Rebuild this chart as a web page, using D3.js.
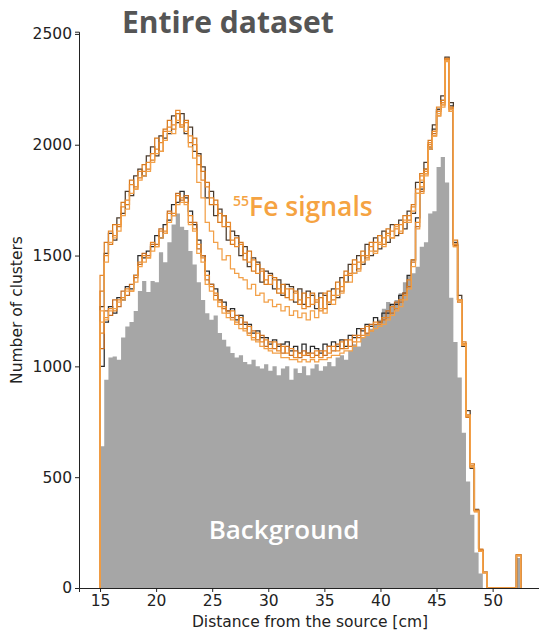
<!DOCTYPE html>
<html>
<head>
<meta charset="utf-8">
<script src="https://cdn.jsdelivr.net/npm/d3@7"></script>
<style>
  body { margin: 0; background: #fff; }
  svg { display: block; }
</style>
</head>
<body>
<svg id="chart" width="539" height="631"></svg>
<script>
// Histogram binning: 100 bins from 15 cm to 52.5 cm
const binStart = 15;
const binWidth = 0.375;

// Background cluster counts per bin
const background = [
  640, 940, 1040, 1045, 1030, 1130, 1180, 1200, 1250, 1340,
  1385, 1335, 1385, 1380, 1515, 1470, 1560, 1640, 1690, 1630,
  1615, 1520, 1460, 1380, 1300, 1240, 1210, 1230, 1150, 1120,
  1090, 1060, 1040, 1050, 1020, 1010, 1030, 1000, 990, 1010,
  980, 1000, 960, 990, 1000, 940, 990, 970, 1000, 960,
  990, 1010, 980, 1000, 1020, 1000, 1040, 1050, 1030, 1070,
  1100, 1090, 1130, 1150, 1170, 1190, 1210, 1260, 1290, 1280,
  1300, 1330, 1380, 1410, 1420, 1450, 1540, 1560, 1690, 1700,
  1900, 1945, 1830, 1310, 1110, 950, 700, 480, 330, 160,
  65, 0, 0, 0, 0, 0, 0, 0, 0, 135
];

// 55Fe signal runs, higher-rate group
const signalHigh1 = [
  1270, 1510, 1600, 1570, 1670, 1690, 1790, 1770, 1860, 1890,
  1860, 1950, 1990, 1950, 2040, 2030, 2050, 2130, 2100, 2140,
  2050, 2080, 1970, 1960, 1900, 1760, 1790, 1680, 1710, 1680,
  1570, 1610, 1590, 1500, 1540, 1450, 1490, 1470, 1380, 1430,
  1420, 1350, 1390, 1320, 1370, 1360, 1290, 1350, 1280, 1340,
  1320, 1260, 1330, 1320, 1280, 1350, 1310, 1400, 1380, 1460,
  1420, 1500, 1460, 1550, 1500, 1580, 1530, 1610, 1560, 1640,
  1590, 1660, 1620, 1700, 1690, 1830, 1830, 1920, 1980, 2090,
  2160, 2220, 2395, 2190, 1560, 1320, 1090, 800, 540, 355,
  170, 70, 0, 0, 0, 0, 0, 0, 0, 150
];
const signalHigh2 = [
  1340, 1560, 1550, 1640, 1630, 1740, 1730, 1840, 1810, 1850,
  1910, 1890, 1930, 2030, 1970, 2070, 2110, 2070, 2140, 2080,
  2110, 2010, 2030, 1910, 1880, 1830, 1730, 1750, 1650, 1680,
  1630, 1550, 1580, 1560, 1480, 1520, 1430, 1460, 1440, 1370,
  1410, 1400, 1330, 1370, 1310, 1350, 1340, 1280, 1330, 1270,
  1330, 1290, 1310, 1260, 1340, 1300, 1380, 1340, 1430, 1410,
  1480, 1440, 1520, 1490, 1560, 1520, 1590, 1550, 1620, 1580,
  1640, 1600, 1680, 1660, 1730, 1780, 1870, 1870, 2020, 2040,
  2130, 2200, 2380, 2150, 1570, 1290, 1110, 770, 560, 345,
  175, 70, 0, 0, 0, 0, 0, 0, 0, 148
];
const signalHigh3 = [
  1410, 1500, 1610, 1590, 1640, 1720, 1750, 1820, 1800, 1880,
  1880, 1920, 1960, 1980, 2010, 2060, 2080, 2090, 2155, 2090,
  2100, 2040, 2000, 1950, 1840, 1810, 1760, 1730, 1690, 1630,
  1650, 1570, 1540, 1550, 1510, 1470, 1480, 1420, 1430, 1390,
  1370, 1390, 1350, 1330, 1350, 1300, 1330, 1300, 1260, 1310,
  1280, 1300, 1250, 1330, 1290, 1320, 1350, 1360, 1410, 1420,
  1460, 1470, 1500, 1500, 1540, 1560, 1550, 1580, 1600, 1610,
  1620, 1640, 1650, 1680, 1720, 1800, 1860, 1890, 2010, 2060,
  2170, 2180, 2390, 2160, 1550, 1300, 1100, 780, 550, 350,
  170, 70, 0, 0, 0, 0, 0, 0, 0, 150
];
const signalHigh4 = [
  1200, 1470, 1560, 1580, 1610, 1680, 1710, 1780, 1800, 1840,
  1860, 1880, 1920, 1960, 1970, 2020, 2060, 2050, 2110, 2080,
  2060, 1990, 1940, 1830, 1760, 1650, 1610, 1560, 1530, 1480,
  1500, 1440, 1420, 1400, 1390, 1350, 1370, 1320, 1330, 1290,
  1300, 1270, 1280, 1250, 1270, 1230, 1250, 1220, 1240, 1210,
  1250, 1220, 1260, 1240, 1290, 1280, 1320, 1330, 1380, 1380,
  1420, 1430, 1470, 1480, 1520, 1510, 1560, 1540, 1590, 1580,
  1630, 1610, 1660, 1650, 1700, 1780, 1840, 1870, 1990, 2040,
  2130, 2170, 2380, 2150, 1540, 1300, 1100, 780, 550, 345,
  165, 70, 0, 0, 0, 0, 0, 0, 0, 145
];

// 55Fe signal runs, lower-rate group
const signalLow1 = [
  1000, 1200, 1270, 1240, 1310, 1300, 1360, 1350, 1410, 1500,
  1490, 1520, 1540, 1590, 1580, 1640, 1660, 1730, 1740, 1790,
  1760, 1700, 1640, 1570, 1500, 1430, 1370, 1350, 1300, 1290,
  1250, 1260, 1210, 1230, 1190, 1190, 1150, 1160, 1130, 1130,
  1100, 1120, 1090, 1100, 1110, 1070, 1090, 1060, 1100, 1060,
  1090, 1080, 1060, 1100, 1090, 1110, 1090, 1120, 1090, 1140,
  1130, 1170, 1160, 1190, 1180, 1220, 1200, 1240, 1240, 1280,
  1280, 1320, 1330, 1410, 1480, 1670, 1800, 1890, 1990, 2070,
  2160, 2200, 2390, 2175, 1550, 1300, 1100, 780, 550, 350,
  170, 70, 0, 0, 0, 0, 0, 0, 0, 150
];
const signalLow2 = [
  1080, 1250, 1230, 1300, 1270, 1340, 1320, 1370, 1400, 1460,
  1510, 1500, 1550, 1550, 1620, 1600, 1700, 1680, 1780, 1750,
  1770, 1650, 1650, 1530, 1500, 1390, 1370, 1320, 1300, 1260,
  1250, 1220, 1230, 1190, 1200, 1150, 1160, 1120, 1140, 1090,
  1110, 1080, 1100, 1060, 1090, 1050, 1070, 1040, 1070, 1050,
  1060, 1050, 1070, 1050, 1090, 1070, 1100, 1080, 1120, 1090,
  1140, 1130, 1170, 1150, 1190, 1190, 1200, 1210, 1250, 1240,
  1290, 1290, 1330, 1360, 1470, 1630, 1790, 1870, 1990, 2050,
  2150, 2190, 2380, 2165, 1545, 1300, 1100, 775, 545, 350,
  170, 68, 0, 0, 0, 0, 0, 0, 0, 148
];
const signalLow3 = [
  1150, 1220, 1260, 1250, 1300, 1310, 1350, 1340, 1410, 1470,
  1500, 1490, 1560, 1540, 1610, 1610, 1690, 1690, 1770, 1760,
  1740, 1680, 1620, 1550, 1490, 1410, 1360, 1330, 1290, 1270,
  1240, 1250, 1200, 1220, 1170, 1180, 1130, 1150, 1110, 1120,
  1080, 1110, 1070, 1090, 1060, 1080, 1040, 1060, 1050, 1060,
  1040, 1070, 1040, 1070, 1060, 1090, 1070, 1110, 1080, 1120,
  1110, 1140, 1140, 1180, 1160, 1200, 1190, 1220, 1220, 1270,
  1260, 1300, 1320, 1390, 1480, 1650, 1810, 1880, 2000, 2060,
  2150, 2190, 2385, 2170, 1550, 1300, 1100, 780, 550, 350,
  170, 70, 0, 0, 0, 0, 0, 0, 0, 150
];
const signalLow4 = [
  1250, 1210, 1250, 1260, 1290, 1300, 1340, 1340, 1380, 1450,
  1470, 1490, 1520, 1540, 1580, 1600, 1650, 1680, 1730, 1740,
  1730, 1640, 1610, 1510, 1470, 1370, 1340, 1300, 1270, 1240,
  1220, 1210, 1190, 1170, 1160, 1140, 1120, 1110, 1090, 1080,
  1070, 1060, 1060, 1040, 1040, 1030, 1030, 1020, 1030, 1020,
  1030, 1020, 1030, 1030, 1040, 1050, 1050, 1060, 1070, 1070,
  1090, 1110, 1130, 1140, 1160, 1170, 1180, 1190, 1210, 1230,
  1250, 1270, 1300, 1350, 1450, 1620, 1780, 1860, 1980, 2040,
  2140, 2180, 2375, 2160, 1540, 1295, 1095, 775, 545, 345,
  165, 68, 0, 0, 0, 0, 0, 0, 0, 145
];

const signalRuns = [signalLow1, signalHigh1, signalLow2, signalHigh2, signalLow3, signalHigh3, signalLow4, signalHigh4];
const runColors = ["#2b2b2b", "#4a3a2c", "#c46c22", "#d87a1e", "#e8892c", "#e8892c", "#f2a048", "#f2a048"];

const xTicks = [15, 20, 25, 30, 35, 40, 45, 50];
const yTicks = [0, 500, 1000, 1500, 2000, 2500];

const svg = d3.select("#chart");

const x = d3.scaleLinear().domain([13.125, 54.375]).range([79, 541.7]);
const y = d3.scaleLinear().domain([0, 2510]).range([588, 31.7]);

// Outline points of a histogram: up from zero at the first edge, flat across
// every bin, back to zero at the last edge.
function stepPoints(values) {
  const pts = [[binStart, 0]];
  values.forEach((v, i) => {
    const e0 = binStart + i * binWidth;
    pts.push([e0, v], [e0 + binWidth, v]);
  });
  pts.push([binStart + values.length * binWidth, 0]);
  return pts;
}

// Filled background histogram
const area = d3.area()
  .x(d => x(d[0]))
  .y0(y(0))
  .y1(d => y(d[1]));
svg.append("path")
  .attr("d", area(stepPoints(background)))
  .attr("fill", "#a6a6a6");

// Signal histograms drawn as step outlines
const line = d3.line().x(d => x(d[0])).y(d => y(d[1]));
signalRuns.forEach((vals, i) => {
  svg.append("path")
    .attr("d", line(stepPoints(vals)))
    .attr("fill", "none")
    .attr("stroke", runColors[i])
    .attr("stroke-width", 1.25)
    .attr("stroke-linejoin", "miter");
});

// Axes
const xAxis = d3.axisBottom(x).tickValues(xTicks).tickSize(4).tickPadding(3).tickFormat(d3.format("d"));
const yAxis = d3.axisLeft(y).tickValues(yTicks).tickSize(4).tickPadding(3).tickFormat(d3.format("d"));

const gx = svg.append("g").attr("transform", `translate(0,${y(0)})`).call(xAxis);
const gy = svg.append("g").attr("transform", `translate(${x(13.125)},0)`).call(yAxis);
[gx, gy].forEach(g => {
  g.selectAll("path.domain").attr("stroke", "#222").attr("stroke-width", 1);
  g.selectAll(".tick line").attr("stroke", "#222");
  g.selectAll(".tick text")
    .attr("font-family", "DejaVu Sans")
    .attr("font-size", 15.5)
    .attr("fill", "#222");
});

// Axis titles
svg.append("text")
  .attr("x", 310)
  .attr("y", 627)
  .attr("text-anchor", "middle")
  .attr("font-family", "DejaVu Sans")
  .attr("font-size", 15.5)
  .attr("fill", "#222")
  .text("Distance from the source [cm]");

svg.append("text")
  .attr("transform", "translate(22,310) rotate(-90)")
  .attr("text-anchor", "middle")
  .attr("font-family", "DejaVu Sans")
  .attr("font-size", 15.5)
  .attr("fill", "#222")
  .text("Number of clusters");

// Title
svg.append("text")
  .attr("x", 122)
  .attr("y", 33)
  .attr("font-family", "Open Sans")
  .attr("font-weight", 700)
  .attr("font-size", 30)
  .attr("fill", "#555555")
  .text("Entire dataset");

// Annotations
const fe = svg.append("text")
  .attr("x", 233)
  .attr("y", 216)
  .attr("font-family", "Open Sans")
  .attr("font-weight", 600)
  .attr("fill", "#f5a342");
fe.append("tspan").attr("font-size", 14).attr("dy", -10).text("55");
fe.append("tspan").attr("font-size", 26.5).attr("dy", 10).text("Fe signals");

svg.append("text")
  .attr("x", 284)
  .attr("y", 539)
  .attr("text-anchor", "middle")
  .attr("font-family", "Open Sans")
  .attr("font-weight", 600)
  .attr("font-size", 26)
  .attr("fill", "#ffffff")
  .text("Background");
</script>
</body>
</html>
